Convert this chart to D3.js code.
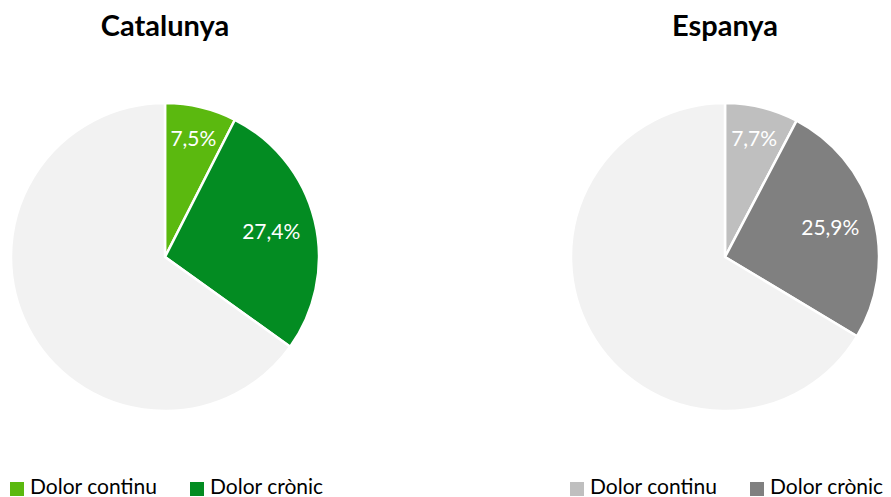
<!DOCTYPE html>
<html><head><meta charset="utf-8">
<script src="https://cdn.jsdelivr.net/npm/d3@7"></script>
<style>body{margin:0;background:#fff;} svg{display:block;}</style>
</head><body>
<svg id="c" width="891" height="497"></svg>
<script>
const regions = ["Catalunya", "Espanya"];
const categories = ["Dolor continu", "Dolor crònic"];
const catalunyaValues = [7.5, 27.4];
const espanyaValues = [7.7, 25.9];
const seriesValues = [catalunyaValues, espanyaValues];
const palettes = [["#5BB90F", "#038C22"], ["#BFBFBF", "#808080"]];
const restColor = "#F2F2F2";

const svg = d3.select("#c");
const font = "Lato, 'Open Sans', sans-serif";
const centers = [165, 725];
const cy = 257, R = 154;

const pie = d3.pie().sort(null).value(d => d.v);
const arc = d3.arc().innerRadius(0).outerRadius(R);

regions.forEach((name, i) => {
  const vals = seriesValues[i];
  const data = vals.map((v, j) => ({v, c: palettes[i][j], lab: true}))
    .concat([{v: 100 - d3.sum(vals), c: restColor, lab: false}]);
  const g = svg.append("g").attr("transform", `translate(${centers[i]},${cy})`);
  const arcs = pie(data);
  g.selectAll("path").data(arcs).join("path")
    .attr("d", arc).attr("fill", d => d.data.c)
    .attr("stroke", "#fff").attr("stroke-width", 2.5).attr("stroke-linejoin", "round");
  g.selectAll("text").data(arcs.filter(d => d.data.lab)).join("text")
    .attr("transform", d => {
      const a = (d.startAngle + d.endAngle) / 2;
      const rr = (d.endAngle - d.startAngle) < 0.8 ? R * 0.79 : R * 0.71;
      return `translate(${rr * Math.sin(a)},${-rr * Math.cos(a)})`;
    })
    .attr("text-anchor", "middle").attr("dy", "0.35em")
    .attr("fill", "#fff").attr("font-family", font).attr("font-size", 21)
    .text(d => d3.format(".1f")(d.data.v).replace(".", ",") + "%");
  svg.append("text").attr("x", centers[i]).attr("y", 36)
    .attr("text-anchor", "middle").attr("font-family", font)
    .attr("font-weight", "bold").attr("font-size", 29).attr("fill", "#000")
    .text(name);
  const lx = [10, 570][i];
  const lg = svg.append("g").attr("transform", `translate(${lx},0)`);
  categories.forEach((cat, j) => {
    const ox = j * 180;
    lg.append("rect").attr("x", ox).attr("y", 482).attr("width", 14).attr("height", 14)
      .attr("fill", palettes[i][j]);
    lg.append("text").attr("x", ox + 20).attr("y", 494)
      .attr("font-family", font).attr("font-size", 21).attr("fill", "#000").text(cat);
  });
});
</script>
</body></html>
